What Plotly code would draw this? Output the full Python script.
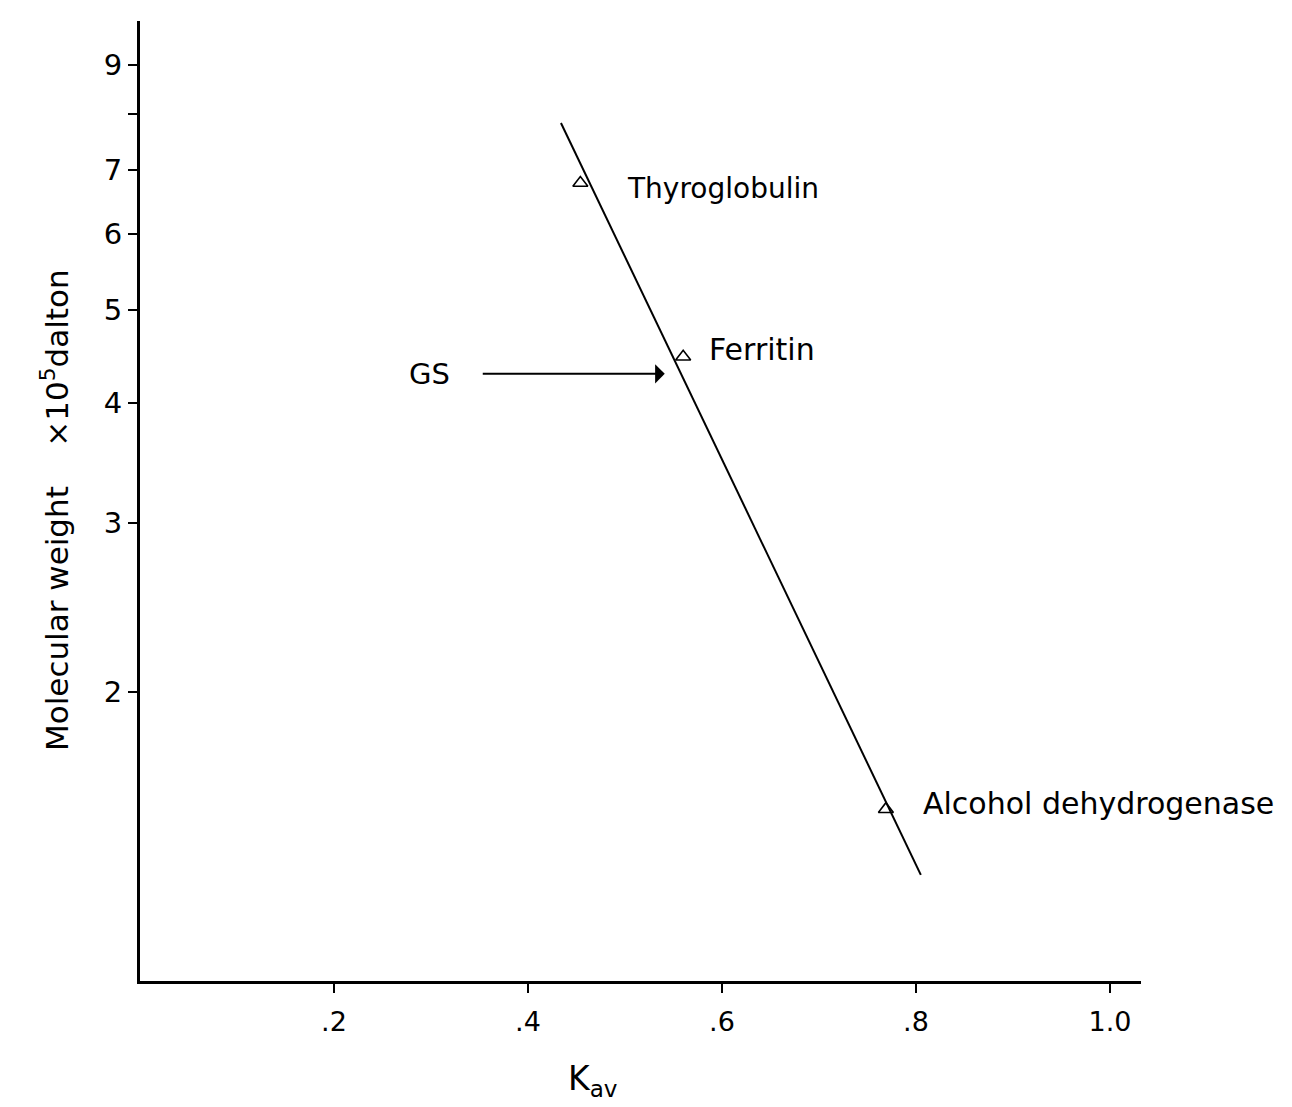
import numpy as np
import plotly.graph_objects as go

# ---- data ----
proteins = ["Thyroglobulin", "Ferritin", "Alcohol dehydrogenase"]
kav = [0.454, 0.560, 0.769]
mw = [6.78, 4.47, 1.51]          # x 10^5 dalton

fit_kav = [0.434, 0.805]
fit_mw = [7.83, 1.29]

gs_kav = 0.541
gs_mw = 4.29

x_tickvals = [0.2, 0.4, 0.6, 0.8, 1.0]
x_ticktext = [".2", ".4", ".6", ".8", "1.0"]
y_tickvals = [2, 3, 4, 5, 6, 7, 9]
y_ticktext = ["2", "3", "4", "5", "6", "7", "9"]
y_minor_tickvals = [8]

FONT = "DejaVu Sans"
W, H = 1292, 1107
L, R, T, B = 140, 151, 21, 126

fig = go.Figure()
fig.add_trace(go.Scatter(x=fit_kav, y=fit_mw, mode="lines",
                         line=dict(color="black", width=2), hoverinfo="skip"))
fig.add_trace(go.Scatter(x=kav, y=mw, mode="markers",
                         marker=dict(symbol="triangle-up-open", size=13, color="black",
                                     line=dict(width=1.6, color="black"))))

# protein labels
shifts = [(45, -5), (24, 7), (35, 6)]
sizes = [28, 30, 30]
for name, xv, yv, (dx, dy), fs in zip(proteins, kav, mw, shifts, sizes):
    fig.add_annotation(x=xv, y=np.log10(yv), text=name, showarrow=False,
                       xanchor="left", yanchor="middle", xshift=dx, yshift=dy,
                       font=dict(family=FONT, size=fs, color="black"))

# GS arrow (text at tail, padded box so the shaft starts right of the label)
fig.add_annotation(x=gs_kav, y=np.log10(gs_mw), ax=-235, ay=0, text="GS",
                   showarrow=True, arrowhead=1, arrowsize=1.6, arrowwidth=2,
                   arrowcolor="black", borderpad=32,
                   font=dict(family=FONT, size=29, color="black"))

pw = W - L - R
ph = H - T - B
# axis titles
fig.add_annotation(xref="paper", yref="paper", x=(55 - L) / pw, y=1 - (510 - T) / ph,
                   text="Molecular weight    ×10<sup>5</sup>dalton", textangle=-90,
                   showarrow=False, xanchor="center", yanchor="middle",
                   font=dict(family=FONT, size=31, color="black"))
fig.add_annotation(xref="paper", yref="paper", x=(592 - L) / pw, y=-(1080 - T - ph) / ph,
                   text="K<sub>av</sub>", showarrow=False, xanchor="center", yanchor="middle",
                   font=dict(family=FONT, size=33, color="black"))

fig.update_layout(
    width=W, height=H, margin=dict(l=L, r=R, t=T, b=B),
    paper_bgcolor="white", plot_bgcolor="white", showlegend=False,
    font=dict(family=FONT, color="black"),
)
fig.update_xaxes(range=[0, 1.032], showgrid=False, zeroline=False, showline=True,
                 linecolor="black", linewidth=3, ticks="outside", ticklen=9, tickwidth=2,
                 tickcolor="black", tickvals=x_tickvals, ticktext=x_ticktext,
                 ticklabelstandoff=6,
                 tickfont=dict(family=FONT, size=27, color="black"))
fig.update_yaxes(type="log", range=[0, 1], showgrid=False, zeroline=False, showline=True,
                 linecolor="black", linewidth=3, ticks="outside", ticklen=9, tickwidth=2,
                 tickcolor="black", tickvals=y_tickvals, ticktext=y_ticktext,
                 minor=dict(tickvals=y_minor_tickvals, ticks="outside", ticklen=9,
                            tickwidth=2, tickcolor="black"),
                 tickfont=dict(family=FONT, size=29, color="black"))

fig.write_html("out.html")
